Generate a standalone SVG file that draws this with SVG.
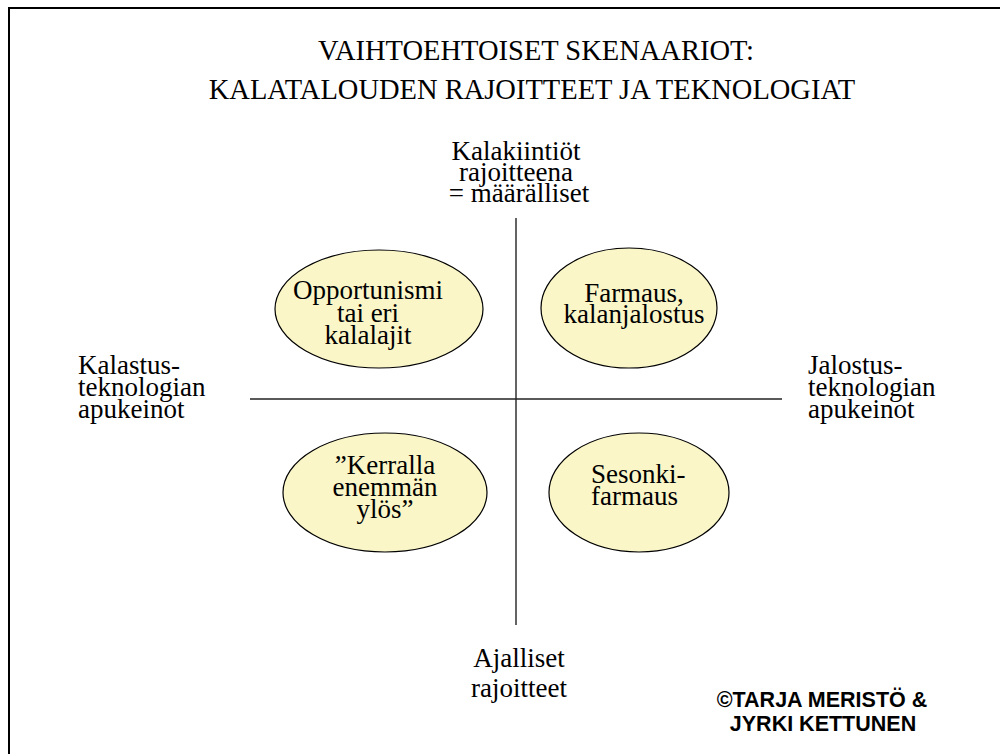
<svg xmlns="http://www.w3.org/2000/svg" width="1000" height="754" viewBox="0 0 1000 754">
<style>
.t{font-size:27px;fill:#000}
.ttl{font-size:28.5px;fill:#000}
.c{text-anchor:middle}
.el{fill:#FAF6C8;stroke:#000;stroke-width:1.2}
.ax{stroke:#222;stroke-width:1.4;fill:none}
.cp{font-size:21.5px;font-weight:bold;fill:#000;text-anchor:middle}
</style>
<rect x="0" y="0" width="1000" height="754" fill="#fff"/>
<rect x="9" y="8" width="1100" height="800" fill="none" stroke="#000" stroke-width="2"/>
<g id="title" font-family="Liberation Serif">
<text class="ttl c" x="536" y="60">VAIHTOEHTOISET SKENAARIOT:</text>
<text class="ttl c" x="532" y="99">KALATALOUDEN RAJOITTEET JA TEKNOLOGIAT</text>
</g>
<g id="connectors">
<line class="ax" x1="516" y1="218" x2="516" y2="625"/>
<line class="ax" x1="250" y1="399" x2="782" y2="399"/>
</g>
<g id="axis-top" font-family="Liberation Serif">
<text class="t c" x="516" y="160">Kalakiintiöt</text>
<text class="t c" x="516" y="181">rajoitteena</text>
<text class="t c" x="519" y="202">= määrälliset</text>
</g>
<g id="axis-left" font-family="Liberation Serif">
<text class="t" x="78" y="374">Kalastus-</text>
<text class="t" x="78" y="396">teknologian</text>
<text class="t" x="78" y="418">apukeinot</text>
</g>
<g id="axis-right" font-family="Liberation Serif">
<text class="t" x="808" y="374">Jalostus-</text>
<text class="t" x="808" y="396">teknologian</text>
<text class="t" x="808" y="418">apukeinot</text>
</g>
<g id="axis-bottom" font-family="Liberation Serif">
<text class="t c" x="519" y="667">Ajalliset</text>
<text class="t c" x="519" y="697">rajoitteet</text>
</g>
<g id="node-opportunismi" font-family="Liberation Serif">
<ellipse class="el" cx="379" cy="309" rx="104" ry="59"/>
<text class="t c" x="368" y="299">Opportunismi</text>
<text class="t c" x="368" y="322">tai eri</text>
<text class="t c" x="368" y="344">kalalajit</text>
</g>
<g id="node-farmaus" font-family="Liberation Serif">
<ellipse class="el" cx="629" cy="308" rx="88" ry="60"/>
<text class="t c" x="634" y="302">Farmaus,</text>
<text class="t c" x="634" y="323">kalanjalostus</text>
</g>
<g id="node-kerralla" font-family="Liberation Serif">
<ellipse class="el" cx="385" cy="492.5" rx="102" ry="59.5"/>
<text class="t c" x="385" y="474">”Kerralla</text>
<text class="t c" x="385" y="496">enemmän</text>
<text class="t c" x="385" y="518">ylös”</text>
</g>
<g id="node-sesonki" font-family="Liberation Serif">
<ellipse class="el" cx="639" cy="492.5" rx="90" ry="59.5"/>
<text class="t" x="591" y="483">Sesonki-</text>
<text class="t" x="591" y="505">farmaus</text>
</g>
<g id="copyright" font-family="Liberation Sans">
<text class="cp" x="822" y="707">©TARJA MERISTÖ &amp;</text>
<text class="cp" x="823" y="731">JYRKI KETTUNEN</text>
</g>
</svg>
